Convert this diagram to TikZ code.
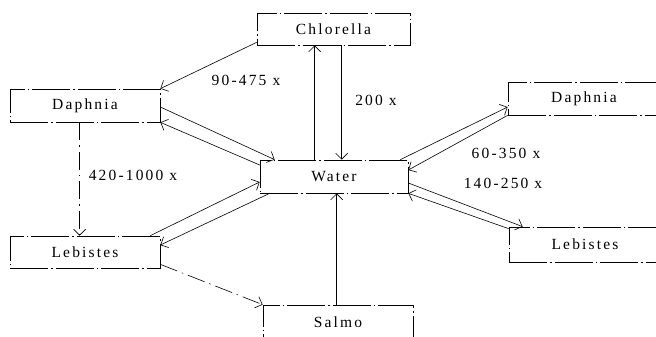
\documentclass[tikz,border=0pt]{standalone}
\usepackage{fontspec}
\setmainfont{Liberation Serif}[LetterSpace=14]
\usetikzlibrary{arrows.meta,positioning,calc}

\begin{document}
\begin{tikzpicture}[
    x=1pt,y=-1pt,
    every node/.style={font=\fontsize{15.5}{18}\selectfont},
    box/.style={draw,line width=0.7pt,dash pattern=on 38pt off 3pt on 1.5pt off 3pt,minimum width=150pt,minimum height=33pt,inner sep=0pt},
    arr/.style={-{Straight Barb[length=6pt,width=12pt]},line width=0.6pt},
    darr/.style={arr,dash pattern=on 18pt off 5pt on 1.5pt off 5pt}
  ]
    \useasboundingbox (0,0) rectangle (656,337);
    \clip (0,0) rectangle (656,337);
    \node[box,minimum width=153pt,minimum height=32pt] (chlor) at (333.5,29) {Chlorella};
    \node[box] (daphL) at (85,105.5) {Daphnia};
    \node[box,minimum width=152pt] (daphR) at (584,98.5) {Daphnia};
    \node[box,minimum width=148pt] (water) at (334,176.5) {Water};
    \node[box,minimum height=32pt] (lebL) at (85,252) {Lebistes};
    \node[box,minimum width=152pt,minimum height=35pt] (lebR) at (585,244.5) {Lebistes};
    \node[box,minimum height=35pt] (salmo) at (338,322.5) {Salmo};
    % chlorella
    \draw[arr] ($(chlor.south west)+(0,-3)$) -- (daphL.north east);
    \draw[arr] ($(water.north west)+(55,0)$) -- ($(chlor.south west)+(58,0)$);
    \draw[arr] ($(chlor.south west)+(85,0)$) -- ($(water.north west)+(82,0)$);
    % daphnia left
    \draw[arr] ($(daphL.east)+(0,1.5)$) -- ($(water.north west)+(15,0)$);
    \draw[arr] ($(water.west)+(0,-11.5)$) -- (daphL.south east);
    \draw[darr] ($(daphL.south west)+(70,0)$) -- ($(lebL.north west)+(70,0)$);
    % lebistes left
    \draw[arr] ($(lebL.north east)+(-10,0)$) -- ($(water.west)+(0,5.5)$);
    \draw[arr] ($(water.south west)+(10,0)$) -- ($(lebL.east)+(0,-7)$);
    \draw[darr] ($(lebL.south east)+(0,-4)$) -- (salmo.north west);
    \draw[arr] ($(salmo.north west)+(74,0)$) -- ($(water.south west)+(77,0)$);
    % right side
    \draw[arr] ($(water.north east)+(-8,0)$) -- ($(daphR.west)+(0,8.5)$);
    \draw[arr] (daphR.south west) -- ($(water.east)+(0,-6.5)$);
    \draw[arr] ($(water.east)+(0,6.5)$) -- ($(lebR.north west)+(14,0)$);
    \draw[arr] ($(lebR.north west)+(0,2)$) -- (water.south east);
    % labels
    \node (lChlorDaph) at (246,80) {90-475 x};
    \node (lChlorWater) at (376,100) {200 x};
    \node (lDaphLeb) at (133,175) {420-1000 x};
    \node (lDaphR) at (506,153) {60-350 x};
    \node (lLebR) at (503,183) {140-250 x};
  \end{tikzpicture}
\end{document}
